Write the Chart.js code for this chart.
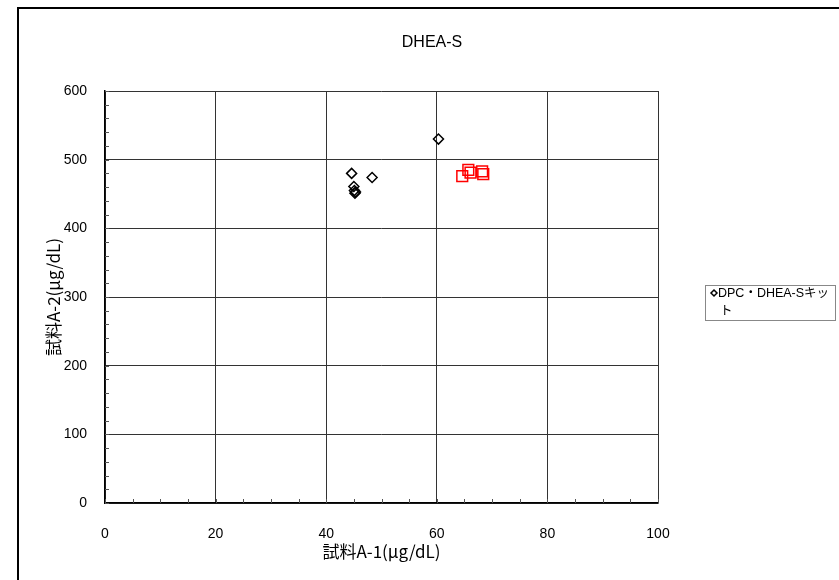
<!DOCTYPE html>
<html>
<head>
<meta charset="utf-8">
<script src="https://cdn.jsdelivr.net/npm/chart.js@4/dist/chart.umd.min.js"></script>
<style>
  body { margin: 0; background: #fff; }
  #wrap { position: relative; width: 839px; height: 580px; }
</style>
</head>
<body>
<div id="wrap"><canvas id="c" width="839" height="580"></canvas></div>
<script>
// chart data
const chartTitle = 'DHEA-S';
const xTitle = '試料A-1(μg/dL)';
const yTitle = '試料A-2(μg/dL)';
const seriesName = 'DPC・DHEA-Sキット';
const kitX = [44.6, 45.0, 45.1, 45.2, 45.3, 48.3, 60.3];
const kitY = [480, 461, 455, 451, 453, 474, 530];
// red squares (not in legend)
const redX = [64.6, 65.7, 66.1, 68.2, 68.4];
const redY = [476, 485, 481, 483, 479];
const xMin = 0, xMax = 100, xStep = 20, xMinor = 5;
const yMin = 0, yMax = 600, yStep = 100, yMinor = 20;

const fontFam = "'Liberation Sans', 'Noto Sans CJK JP', sans-serif";
const jpFam = "'Noto Sans CJK JP', sans-serif";

function toPoints(xs, ys) {
	return xs.map((x, i) => ({ x: x, y: ys[i] }));
}

// outer frame, title, minor ticks and the legend box
const extras = {
	id: 'extras',
	beforeDraw(chart) {
		const ctx = chart.ctx;
		ctx.save();
		ctx.fillStyle = '#fff';
		ctx.fillRect(0, 0, chart.width, chart.height);
		ctx.restore();
	},
	afterDraw(chart) {
		const ctx = chart.ctx;
		const xs = chart.scales.x, ys = chart.scales.y;
		ctx.save();
		// outer frame
		ctx.strokeStyle = '#000';
		ctx.lineWidth = 2;
		ctx.strokeRect(18, 8, 900, 700);
		// title
		ctx.fillStyle = '#000';
		ctx.font = "16px " + fontFam;
		ctx.textAlign = 'center';
		ctx.textBaseline = 'middle';
		ctx.fillText(chartTitle, 432, 43);
		// minor ticks
		ctx.strokeStyle = '#555';
		ctx.lineWidth = 1;
		ctx.beginPath();
		for (let v = xMin; v <= xMax; v += xMinor) {
			const px = Math.round(xs.getPixelForValue(v)) + 0.5;
			ctx.moveTo(px, ys.bottom);
			ctx.lineTo(px, ys.bottom - 4);
		}
		for (let v = yMin; v <= yMax; v += yMinor) {
			const py = Math.round(ys.getPixelForValue(v)) + 0.5;
			ctx.moveTo(xs.left, py);
			ctx.lineTo(xs.left + 4, py);
		}
		ctx.stroke();
		// legend
		ctx.strokeStyle = '#888';
		ctx.strokeRect(705.5, 285.5, 130, 35);
		ctx.strokeStyle = '#000';
		ctx.lineWidth = 1.5;
		ctx.beginPath();
		const dx = 714, dy = 293, r = 3;
		ctx.moveTo(dx, dy - r);
		ctx.lineTo(dx + r, dy);
		ctx.lineTo(dx, dy + r);
		ctx.lineTo(dx - r, dy);
		ctx.closePath();
		ctx.stroke();
		ctx.font = "12.5px " + fontFam;
		ctx.textAlign = 'left';
		ctx.fillText(seriesName.slice(0, -1), 718, 294);
		ctx.fillText(seriesName.slice(-1), 720, 312);
		ctx.restore();
	}
};

new Chart(document.getElementById('c'), {
	type: 'scatter',
	data: {
		datasets: [{
			label: seriesName,
			data: toPoints(kitX, kitY),
			pointStyle: 'rectRot',
			pointRadius: 5,
			borderColor: '#000',
			backgroundColor: 'rgba(0,0,0,0)',
			pointBorderWidth: 1.5
		}, {
			label: 'red',
			data: toPoints(redX, redY),
			pointStyle: 'rect',
			pointRadius: 7.6,
			borderColor: '#f00',
			backgroundColor: 'rgba(0,0,0,0)',
			pointBorderWidth: 1.5
		}]
	},
	options: {
		responsive: false,
		animation: false,
		layout: { padding: { left: 20, top: 91, right: 181, bottom: 17 } },
		plugins: {
			legend: { display: false },
			title: { display: false },
			tooltip: { enabled: false }
		},
		scales: {
			x: {
				type: 'linear',
				min: xMin, max: xMax,
				afterFit: (s) => { s.height = 60; },
				ticks: { stepSize: xStep, padding: 23, color: '#000', font: { size: 14, family: fontFam } },
				grid: { color: '#333', drawTicks: false },
				border: { color: '#000', width: 1.5 },
				title: { display: true, text: xTitle, color: '#000', padding: { top: 0, bottom: 1 }, font: { size: 17, family: jpFam, lineHeight: 1.2 } }
			},
			y: {
				type: 'linear',
				min: yMin, max: yMax,
				afterFit: (s) => { s.width = 85; },
				ticks: { stepSize: yStep, padding: 18, color: '#000', font: { size: 14, family: fontFam } },
				grid: { color: '#333', drawTicks: false },
				border: { color: '#000', width: 1.5 },
				title: { display: true, text: yTitle, color: '#000', padding: { top: 23, bottom: 0 }, font: { size: 17, family: jpFam, lineHeight: 1.2 } }
			}
		}
	},
	plugins: [extras]
});
</script>
</body>
</html>
